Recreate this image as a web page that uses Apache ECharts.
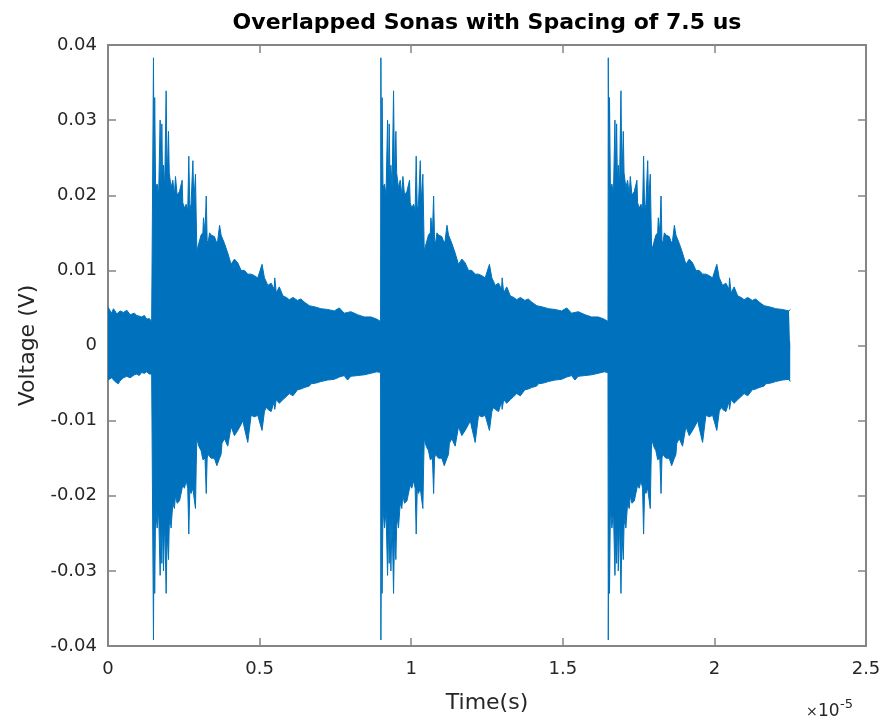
<!DOCTYPE html>
<html>
<head>
<meta charset="utf-8">
<script src="https://cdn.jsdelivr.net/npm/echarts@6/dist/echarts.min.js"></script>
<style>
html,body{margin:0;padding:0;background:#fff;}
#chart{width:886px;height:724px;}
</style>
</head>
<body>
<div id="chart"></div>
<script>
// ---- Data (time in units of 1e-5 s, voltage in V) ----
const titleText = 'Overlapped Sonas with Spacing of 7.5 us';
const xTicks = [0, 0.5, 1, 1.5, 2, 2.5];
const yTicks = [-0.04, -0.03, -0.02, -0.01, 0, 0.01, 0.02, 0.03, 0.04];

// signal before the first burst (tail of previous excitation)
const preTime  = [0.000, 0.006, 0.012, 0.018, 0.023, 0.029, 0.034, 0.040, 0.045, 0.051, 0.056, 0.062, 0.067, 0.073, 0.078, 0.087, 0.095, 0.103, 0.111, 0.120, 0.128, 0.136, 0.144, 0.149];
const preUpper = [0.0051, 0.0047, 0.0043, 0.0049, 0.0046, 0.0042, 0.0040, 0.0046, 0.0048, 0.0044, 0.0043, 0.0047, 0.0046, 0.0041, 0.0040, 0.0043, 0.0040, 0.0039, 0.0038, 0.0040, 0.0035, 0.0036, 0.0032, 0.0034];
const preLower = [-0.0046, -0.0048, -0.0043, -0.0045, -0.0048, -0.0050, -0.0051, -0.0047, -0.0045, -0.0043, -0.0043, -0.0041, -0.0040, -0.0043, -0.0042, -0.0039, -0.0038, -0.0040, -0.0036, -0.0037, -0.0035, -0.0038, -0.0038, -0.0036];

// onset times of the three sona bursts
const burstOnsets = [0.15, 0.9, 1.65];
// end of recording
const endTime = 2.25;
const endUpper = 0.0048;
const endLower = -0.0048;

// envelope of one burst, read vs. time since onset
const burstTau = [0.000, 0.002, 0.004, 0.007, 0.012, 0.017, 0.022, 0.025, 0.0275, 0.030, 0.033, 0.037, 0.0418, 0.045, 0.0495, 0.052, 0.055, 0.058, 0.0638, 0.069, 0.0726, 0.078, 0.0858, 0.0945, 0.0967, 0.102, 0.108, 0.113, 0.1165, 0.120, 0.124, 0.130, 0.133, 0.1385, 0.141, 0.143, 0.1495, 0.157, 0.163, 0.165, 0.170, 0.174, 0.177, 0.180, 0.185, 0.190, 0.201, 0.209, 0.212, 0.218, 0.223, 0.226, 0.234, 0.245, 0.256, 0.267, 0.278, 0.289, 0.295, 0.300, 0.311, 0.322, 0.333, 0.344, 0.358, 0.366, 0.372, 0.377, 0.388, 0.398, 0.400, 0.405, 0.415, 0.427, 0.438, 0.448, 0.460, 0.475, 0.486, 0.497, 0.514, 0.519, 0.536, 0.552, 0.574, 0.596, 0.613, 0.629, 0.640, 0.651, 0.673, 0.695, 0.717, 0.737, 0.749];
const burstUpper = [0.0383, 0.0210, 0.0330, 0.0210, 0.0215, 0.0200, 0.0300, 0.0210, 0.0295, 0.0220, 0.0240, 0.0210, 0.0339, 0.0220, 0.0285, 0.0230, 0.0230, 0.0210, 0.0220, 0.0200, 0.0225, 0.0200, 0.0205, 0.0220, 0.0190, 0.0183, 0.0188, 0.0180, 0.0252, 0.0180, 0.0188, 0.0246, 0.0190, 0.0228, 0.0170, 0.0126, 0.0136, 0.0147, 0.0150, 0.0170, 0.0150, 0.0199, 0.0140, 0.0136, 0.0150, 0.0147, 0.0145, 0.0136, 0.0140, 0.0160, 0.0147, 0.0147, 0.0136, 0.0123, 0.0108, 0.0115, 0.0110, 0.0100, 0.0098, 0.0100, 0.0095, 0.0095, 0.0093, 0.0090, 0.0108, 0.0090, 0.0085, 0.0080, 0.0083, 0.0075, 0.0090, 0.0070, 0.0078, 0.0066, 0.0064, 0.0061, 0.0064, 0.0060, 0.0062, 0.0058, 0.0053, 0.0055, 0.0051, 0.0049, 0.0048, 0.0046, 0.0050, 0.0043, 0.0044, 0.0045, 0.0041, 0.0038, 0.0038, 0.0035, 0.0032];
const burstLower = [-0.0392, -0.0220, -0.0330, -0.0217, -0.0243, -0.0220, -0.0306, -0.0240, -0.0290, -0.0230, -0.0300, -0.0230, -0.0330, -0.0250, -0.0285, -0.0240, -0.0230, -0.0243, -0.0210, -0.0217, -0.0200, -0.0210, -0.0207, -0.0190, -0.0186, -0.0190, -0.0180, -0.0190, -0.0251, -0.0190, -0.0197, -0.0190, -0.0200, -0.0217, -0.0160, -0.0124, -0.0134, -0.0140, -0.0152, -0.0150, -0.0150, -0.0197, -0.0150, -0.0145, -0.0145, -0.0150, -0.0150, -0.0160, -0.0160, -0.0150, -0.0145, -0.0130, -0.0124, -0.0134, -0.0108, -0.0120, -0.0113, -0.0105, -0.0100, -0.0110, -0.0129, -0.0093, -0.0095, -0.0093, -0.0113, -0.0088, -0.0082, -0.0085, -0.0088, -0.0075, -0.0085, -0.0072, -0.0077, -0.0072, -0.0068, -0.0064, -0.0067, -0.0059, -0.0058, -0.0056, -0.0054, -0.0051, -0.0050, -0.0048, -0.0046, -0.0045, -0.0042, -0.0040, -0.0046, -0.0041, -0.0040, -0.0039, -0.0037, -0.0035, -0.0036];

// ---- Build series data from the read values ----
const upperData = [];
const lowerData = [];
function pushPoint(t, up, lo) {
  upperData.push([t, up]);
  lowerData.push([t, lo]);
}
for (let i = 0; i < preTime.length; i++) pushPoint(preTime[i], preUpper[i], preLower[i]);
burstOnsets.forEach(function (t0) {
  for (let i = 0; i < burstTau.length; i++) {
    const t = t0 + burstTau[i];
    if (t < endTime) pushPoint(t, burstUpper[i], burstLower[i]);
  }
});
pushPoint(endTime, endUpper, endLower);

const BLUE = '#0072BD';
const AXIS = '#858585';
const TXT = '#262626';
const FONT = 'DejaVu Sans';

const chart = echarts.init(document.getElementById('chart'), null, {renderer: 'canvas'});

function xAxisDef(pos, showLabel) {
  return {
    type: 'value', position: pos, min: xTicks[0], max: xTicks[xTicks.length - 1],
    interval: xTicks[1] - xTicks[0],
    axisLine: {show: true, onZero: false, lineStyle: {color: AXIS, width: 2}},
    axisTick: {show: true, inside: true, length: 8, lineStyle: {color: AXIS, width: 1.5}},
    axisLabel: {show: showLabel, fontFamily: FONT, fontSize: 18, color: TXT, margin: 14},
    splitLine: {show: false},
    name: showLabel ? 'Time(s)' : '',
    nameLocation: 'middle', nameGap: 46,
    nameTextStyle: {fontFamily: FONT, fontSize: 22, color: TXT}
  };
}
function yAxisDef(pos, showLabel) {
  return {
    type: 'value', position: pos, min: yTicks[0], max: yTicks[yTicks.length - 1],
    interval: 0.01,
    axisLine: {show: true, onZero: false, lineStyle: {color: AXIS, width: 2}},
    axisTick: {show: true, inside: true, length: 8, lineStyle: {color: AXIS, width: 1.5}},
    axisLabel: {show: showLabel, fontFamily: FONT, fontSize: 18, color: TXT, margin: 11,
      formatter: function (v) { return String(Math.round(v * 100) / 100); }},
    splitLine: {show: false},
    name: showLabel ? 'Voltage (V)' : '',
    nameLocation: 'middle', nameGap: 68, nameRotate: 90,
    nameTextStyle: {fontFamily: FONT, fontSize: 22, color: TXT}
  };
}

chart.setOption({
  animation: false,
  backgroundColor: '#ffffff',
  grid: {left: 108, right: 20, top: 45, bottom: 78, containLabel: false},
  xAxis: [xAxisDef('bottom', true), xAxisDef('top', false)],
  yAxis: [yAxisDef('left', true), yAxisDef('right', false)],
  graphic: [
    {type: 'text', x: 487, y: 23, style: {text: titleText, textAlign: 'center', textVerticalAlign: 'middle',
      font: 'bold 22px "DejaVu Sans"', fill: '#000'}},
    {type: 'text', x: 806, y: 719, style: {text: '\u00d7', textAlign: 'left', textVerticalAlign: 'bottom',
      font: '14px "DejaVu Sans"', fill: TXT}},
    {type: 'text', x: 818, y: 720, style: {text: '10', textAlign: 'left', textVerticalAlign: 'bottom',
      font: '17px "DejaVu Sans"', fill: TXT}},
    {type: 'text', x: 840, y: 711, style: {text: '-5', textAlign: 'left', textVerticalAlign: 'bottom',
      font: '13px "DejaVu Sans"', fill: TXT}}
  ],
  series: [
    {
      name: 'upper', type: 'line', xAxisIndex: 0, yAxisIndex: 0,
      data: upperData, showSymbol: false, symbol: 'none',
      lineStyle: {color: BLUE, width: 1},
      areaStyle: {color: BLUE, opacity: 1, origin: -0.0005}, z: 3
    },
    {
      name: 'lower', type: 'line', xAxisIndex: 0, yAxisIndex: 0,
      data: lowerData, showSymbol: false, symbol: 'none',
      lineStyle: {color: BLUE, width: 1},
      areaStyle: {color: BLUE, opacity: 1, origin: 0.0005}, z: 3
    }
  ]
});
</script>
</body>
</html>
